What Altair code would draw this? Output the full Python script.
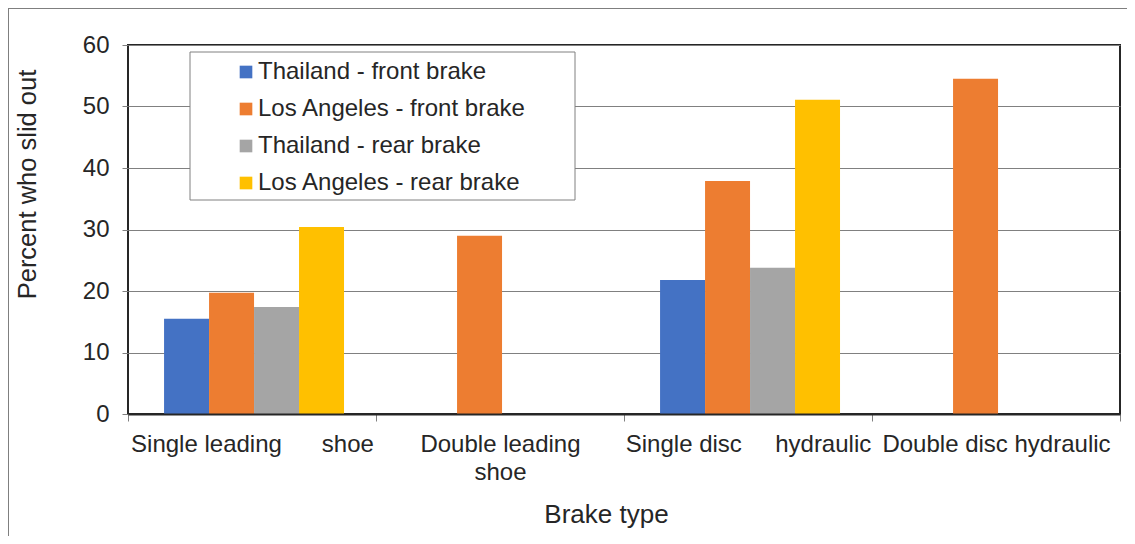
import json
import altair as alt
import pandas as pd

# ---- data ----
categories = ["Single leading shoe", "Double leading shoe",
              "Single disc hydraulic", "Double disc hydraulic"]
series = ["Thailand - front brake", "Los Angeles - front brake",
          "Thailand - rear brake", "Los Angeles - rear brake"]
colors = ["#4472C4", "#ED7D31", "#A5A5A5", "#FFC000"]

thailand_front = [15.5, None, 21.8, None]
la_front = [19.7, 29.0, 37.9, 54.5]
thailand_rear = [17.4, None, 23.8, None]
la_rear = [30.4, None, 51.1, None]

NB = "\u00a0"
x_tick_labels = [
    ["Single leading" + NB * 6 + "shoe"],
    ["Double leading", "shoe"],
    ["Single disc" + NB * 5 + "hydraulic"],
    ["Double disc hydraulic"],
]
y_ticks = [0, 10, 20, 30, 40, 50, 60]

rows = []
for s, vals in zip(series, [thailand_front, la_front, thailand_rear, la_rear]):
    for c, v in zip(categories, vals):
        if v is not None:
            rows.append({"category": c, "series": s, "value": v})
df = pd.DataFrame(rows)

# label expression
expr = ""
for c, lab in zip(categories, x_tick_labels):
    val = lab[0] if len(lab) == 1 else lab
    expr += f"datum.value == {json.dumps(c)} ? {json.dumps(val, ensure_ascii=False)} : "
expr += "datum.label"

FONT = "Liberation Sans"
TXT = "#262626"
GRID = "#808080"

W, H = 992, 369

bars = alt.Chart(df).mark_bar().encode(
    x=alt.X("category:N", sort=categories,
            scale=alt.Scale(domain=categories, paddingInner=0, paddingOuter=0),
            axis=alt.Axis(title="Brake type", labelExpr=expr, tickBand="extent",
                          labelFontSize=24, labelFont=FONT, labelColor=TXT,
                          labelAngle=0, labelLimit=0, labelOverlap=False,
                          labelLineHeight=28, labelPadding=11,
                          tickSize=7, tickColor=GRID, tickWidth=1,
                          domain=True, domainColor="#262626", domainWidth=2,
                          titleFontSize=26, titleFont=FONT, titleColor=TXT,
                          titleFontWeight="normal", titleX=478, titleY=108,
                          titleAlign="center", titleBaseline="alphabetic",
                          zindex=1)),
    xOffset=alt.XOffset("series:N",
                        scale=alt.Scale(domain=series, paddingInner=0,
                                        paddingOuter=0.756, align=0.53)),
    y=alt.Y("value:Q", scale=alt.Scale(domain=[0, 60], nice=False),
            axis=alt.Axis(title="Percent who slid out", values=y_ticks,
                          labelFontSize=24, labelFont=FONT, labelColor=TXT,
                          labelPadding=13, tickSize=6, tickColor=GRID,
                          grid=True, gridColor=GRID, gridWidth=1,
                          domain=False,
                          titleFontSize=25.5, titleFont=FONT, titleColor=TXT,
                          titleFontWeight="normal", titleX=-93, titleY=139,
                          titleAngle=-90, titleAlign="center",
                          titleBaseline="alphabetic")),
    color=alt.Color("series:N", scale=alt.Scale(domain=series, range=colors),
                    legend=alt.Legend(title=None, orient="none", legendX=106, legendY=15,
                                      symbolType="square", symbolSize=160,
                                      symbolStrokeWidth=0,
                                      labelFontSize=24, labelFont=FONT,
                                      labelColor=TXT, labelOffset=0,
                                      rowPadding=13, padding=0, labelLimit=0)),
)

one = pd.DataFrame({"a": [0]})

legend_box = alt.Chart(one).mark_rect(fill="white", stroke=GRID, strokeWidth=1).encode(
    x=alt.value(62), x2=alt.value(447), y=alt.value(7), y2=alt.value(155))

border_left = alt.Chart(one).mark_rule(color="#7f7f7f", strokeWidth=1).encode(
    x=alt.value(-119.5), y=alt.value(-37), y2=alt.value(H + 122))
border_top = alt.Chart(one).mark_rule(color="#7f7f7f", strokeWidth=1).encode(
    x=alt.value(-120), x2=alt.value(W + 7), y=alt.value(-36.5))

chart = alt.layer(bars, legend_box, border_left, border_top).properties(
    width=W, height=H,
    autosize=alt.AutoSizeParams(type="none"),
    padding={"left": 120, "top": 37, "right": 7, "bottom": 122},
).configure(font=FONT).configure_view(stroke="#262626", strokeWidth=2)

chart.save("out.html", embed_options={"renderer": "svg", "actions": False})
